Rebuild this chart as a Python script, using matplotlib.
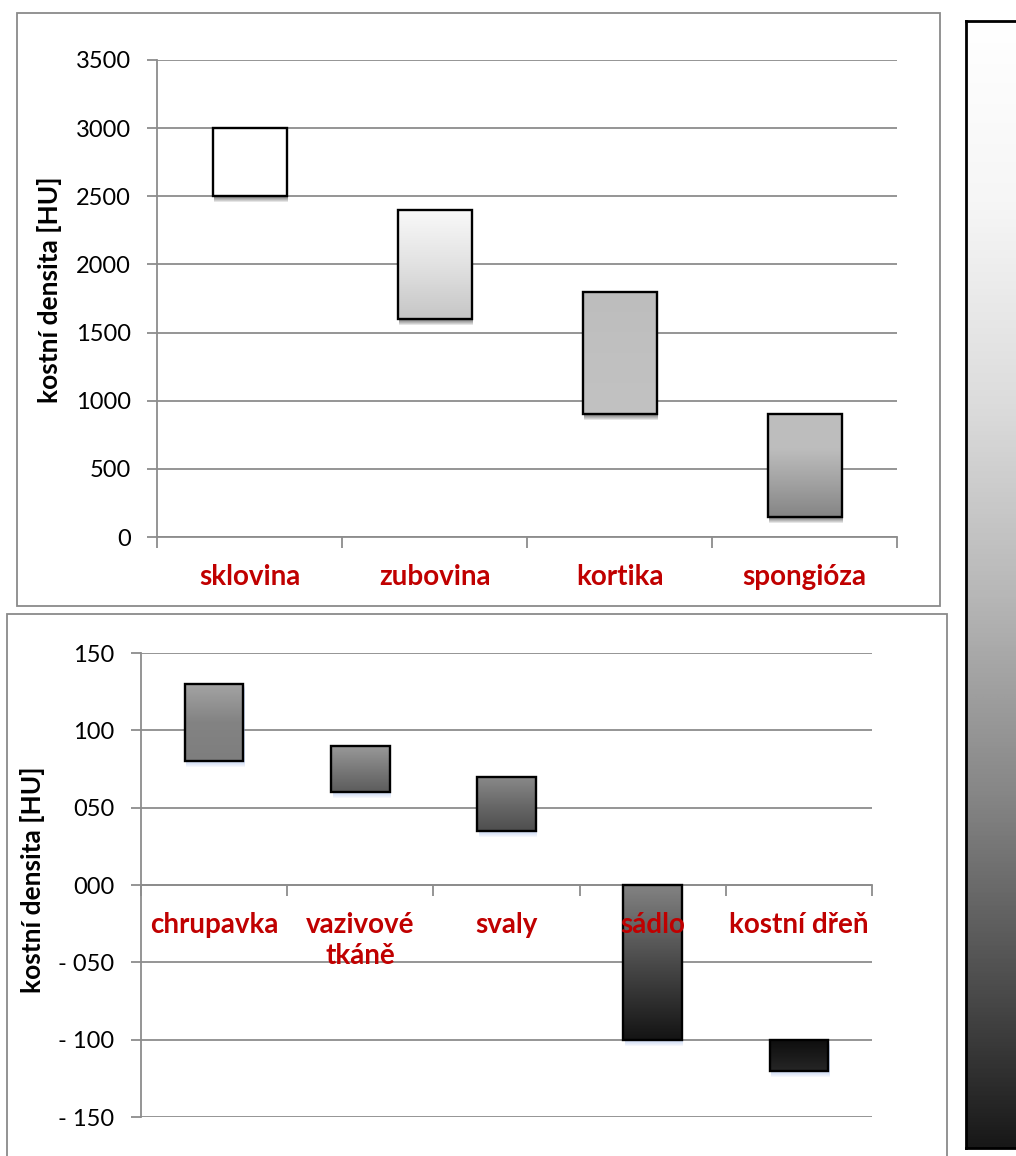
import numpy as np
import matplotlib
matplotlib.use("Agg")
import matplotlib.pyplot as plt
import matplotlib.colors as mcolors
import matplotlib.patches as mpatches
import matplotlib.transforms as mtransforms

plt.rcParams['font.family'] = ['Lato', 'DejaVu Sans']

W, H = 1016, 1156

# hard tissues (upper chart)
hard_names = ["sklovina", "zubovina", "kortika", "spongióza"]
hard_low = [2500, 1600, 900, 150]
hard_high = [3000, 2400, 1800, 900]
hard_ticks = [0, 500, 1000, 1500, 2000, 2500, 3000, 3500]
hard_ticklabels = ["0", "500", "1000", "1500", "2000", "2500", "3000", "3500"]

# soft tissues (lower chart)
soft_names = ["chrupavka", "vazivové\ntkáně", "svaly", "sádlo", "kostní dřeň"]
soft_low = [80, 60, 35, -100, -120]
soft_high = [130, 90, 70, 0, -100]
soft_ticks = [150, 100, 50, 0, -50, -100, -150]
soft_ticklabels = ["150", "100", "050", "000", "- 050", "- 100", "- 150"]

ylabel = "kostní densita [HU]"

# gradient stops of each bar, top -> bottom
hard_fills = [
    ["#ffffff", "#ffffff"],
    ["#f9f9f9", "#e2e2e2", "#c6c6c6"],
    ["#bdbdbd", "#c0c0c0", "#c2c2c2"],
    ["#bebebe", "#bdbdbd", "#a2a2a2", "#858585"],
]
soft_fills = [
    ["#a4a4a4", "#838383", "#7e7e7e"],
    ["#9a9a9a", "#7a7a7a", "#5c5c5c"],
    ["#8a8a8a", "#6a6a6a", "#4e4e4e"],
    ["#828282", "#4a4a4a", "#141414"],
    ["#0e0e0e", "#262626"],
]

RED = "#c00000"
GRID = "#8c8c8c"


def px_box(left, top, right, bottom):
    return [left / W, 1 - bottom / H, (right - left) / W, (bottom - top) / H]


def frame(fig, left, top, right, bottom):
    x, y, w, h = px_box(left, top, right, bottom)
    fig.add_artist(mpatches.Rectangle((x, y), w, h, transform=fig.transFigure,
                                      fill=False, ec="#8a8a8a", lw=1.3))


def draw_bars(fig, ax, lows, highs, fills, shadow):
    for i, (lo, hi) in enumerate(zip(lows, highs)):
        x0 = i + 0.3
        # soft shadow under the box
        for k in range(1, 7):
            tr = mtransforms.offset_copy(ax.transData, fig=fig, x=1.5, y=-k, units='dots')
            ax.add_patch(mpatches.Rectangle((x0, lo), 0.4, hi - lo, transform=tr,
                                            fc=shadow, ec='none', alpha=0.10, zorder=2))
        cmap = mcolors.LinearSegmentedColormap.from_list("bar%d" % i, fills[i])
        ax.imshow(np.linspace(0, 1, 200).reshape(-1, 1), extent=[x0, x0 + 0.4, lo, hi],
                  origin='upper', cmap=cmap, aspect='auto', zorder=3, interpolation='bilinear')
        ax.add_patch(mpatches.Rectangle((x0, lo), 0.4, hi - lo, fill=False,
                                        ec='black', lw=1.7, zorder=4))


def style_axis(ax, n, ticks, ticklabels, ylim):
    ax.set_xlim(0, n)
    ax.set_ylim(*ylim)
    ax.set_yticks(ticks)
    ax.set_yticklabels(ticklabels)
    ax.set_xticks(range(n + 1))
    ax.set_xticklabels([])
    for s in ["top", "right"]:
        ax.spines[s].set_visible(False)
    for s in ["left", "bottom"]:
        ax.spines[s].set_color(GRID)
        ax.spines[s].set_linewidth(1.3)
    ax.yaxis.grid(True, color=GRID, lw=1.3)
    ax.set_axisbelow(True)
    ax.tick_params(axis='y', direction='out', length=7, width=1.3, color=GRID,
                   labelsize=17, pad=12)
    ax.tick_params(axis='x', direction='out', length=8, width=1.3, color=GRID)


def category_labels(ax, names):
    for i, name in enumerate(names):
        ax.annotate(name, xy=(i + 0.5, 0), xycoords='data', xytext=(0, -27),
                    textcoords='offset pixels', ha='center', va='top', color=RED,
                    fontsize=20, fontweight='bold', linespacing=1.25, zorder=6,
                    annotation_clip=False)


fig = plt.figure(figsize=(W / 100, H / 100), dpi=100)

frame(fig, 17, 13, 940, 606)
frame(fig, 7, 614, 947, 1175)

# upper chart
ax1 = fig.add_axes(px_box(157, 60, 897, 537))
style_axis(ax1, len(hard_names), hard_ticks, hard_ticklabels, (0, 3500))
draw_bars(fig, ax1, hard_low, hard_high, hard_fills, "#000000")
category_labels(ax1, hard_names)
fig.text(50 / W, 1 - 290 / H, ylabel, rotation=90, ha='center', va='center',
         fontsize=19, fontweight='bold')

# lower chart
ax2 = fig.add_axes(px_box(141, 653, 872, 1117))
style_axis(ax2, len(soft_names), soft_ticks, soft_ticklabels, (-150, 150))
ax2.spines['bottom'].set_position(('data', 0))
ax2.spines['bottom'].set_zorder(1)
draw_bars(fig, ax2, soft_low, soft_high, soft_fills, "#9db8ea")
category_labels(ax2, soft_names)
fig.text(33 / W, 1 - 880 / H, ylabel, rotation=90, ha='center', va='center',
         fontsize=19, fontweight='bold')

# grey scale strip on the right
cax = fig.add_axes(px_box(966, 21, 1040, 1148))
scale = mcolors.LinearSegmentedColormap.from_list(
    "strip", [(0.0, "#ffffff"), (0.16, "#f6f6f6"), (0.34, "#dcdcdc"), (0.51, "#b7b7b7"),
              (0.69, "#858585"), (0.87, "#484848"), (1.0, "#181818")])
cax.imshow(np.linspace(0, 1, 512).reshape(-1, 1), cmap=scale, aspect='auto',
           interpolation='bilinear')
cax.set_xticks([])
cax.set_yticks([])
for s in cax.spines.values():
    s.set_color("black")
    s.set_linewidth(2)

fig.savefig("out.png", dpi=100)
